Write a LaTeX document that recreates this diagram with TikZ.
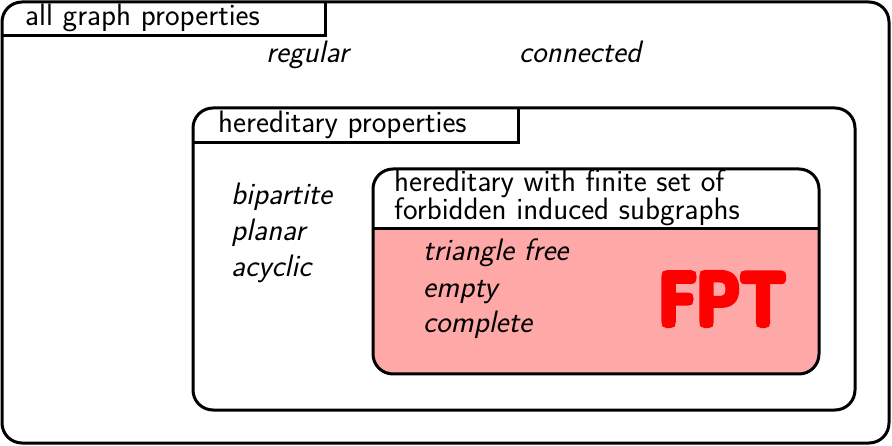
\documentclass[tikz,border=0pt]{standalone}
\usepackage{fontspec}
\usepackage{graphicx}
\renewcommand{\familydefault}{\sfdefault}
\newfontfamily\fptfont{Latin Modern Sans}[FakeBold=8]
\definecolor{fptfill}{RGB}{255,168,168}
\definecolor{fptred}{RGB}{255,0,0}
\begin{document}
\begin{tikzpicture}[x=1pt,y=-1pt,
  frame/.style={line width=3pt,rounded corners=20pt},
  tab/.style={line width=3pt},
  title/.style={anchor=base west,inner sep=0pt,font=\fontsize{31}{36}\selectfont},
  prop/.style={anchor=base west,inner sep=0pt,font=\fontsize{31}{36}\selectfont\itshape}]
\useasboundingbox (0,0) rectangle (892,446);
% outermost set: all graph properties
\draw[frame] (2,2) rectangle (889,443);
\draw[tab] (2,36) -- (325,36) -- (325,2);
\node[title] (all) at (25,26) {all graph properties};
\node[prop] (regular) at (266,63) {regular};
\node[prop] (connected) at (519,63) {connected};
% hereditary properties
\draw[frame] (193,108) rectangle (855,410);
\draw[tab] (193,143) -- (518,143) -- (518,108);
\node[title] (hered) at (218,133) {hereditary properties};
\node[prop] (bip) at (231,205) {bipartite};
\node[prop] (planar) at (231,241) {planar};
\node[prop] (acyc) at (231,277) {acyclic};
% finitely many forbidden induced subgraphs
\fill[fptfill] (373,229) [rounded corners=20pt] -- (373,374) -- (819,374) [sharp corners] -- (819,229) -- cycle;
\draw[frame] (373,169) rectangle (819,374);
\draw[tab] (373,229) -- (819,229);
\node[title,text depth=0pt] (fin1) at (394,192) {hereditary with finite set of};
\node[title] (fin2) at (394,220) {forbidden induced subgraphs};
\node[prop] (tri) at (423,261) {triangle free};
\node[prop] (empty) at (423,298) {empty};
\node[prop] (compl) at (423,333) {complete};
\node[anchor=base west,inner sep=0pt,text=fptred] (fpt) at (658,325)
  {\resizebox{128pt}{52pt}{\fptfont\bfseries\fontsize{72}{80}\selectfont F\kern-1pt P\kern-1pt T}};
\end{tikzpicture}
\end{document}
